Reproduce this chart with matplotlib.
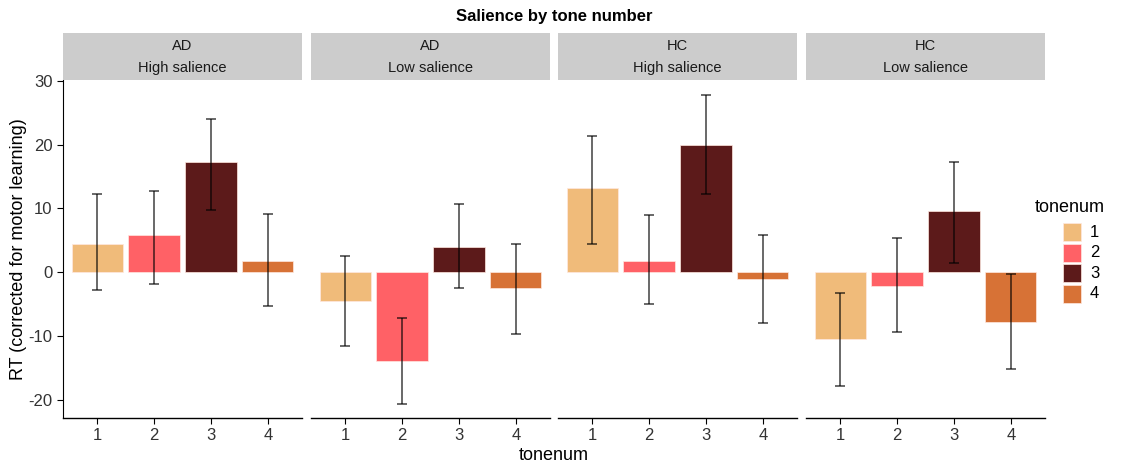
import matplotlib.pyplot as plt
import numpy as np

plt.rcParams['font.family'] = ['Liberation Sans', 'DejaVu Sans']

# --- DATA ---
tones = [1, 2, 3, 4]
groups = ['AD', 'AD', 'HC', 'HC']
salience = ['High salience', 'Low salience', 'High salience', 'Low salience']
means = [
    [4.5, 5.8, 17.2, 1.7],
    [-4.5, -13.9, 3.9, -2.4],
    [13.2, 1.8, 20.0, -1.0],
    [-10.4, -2.1, 9.6, -7.8],
]
upper = [
    [12.2, 12.8, 24.0, 9.2],
    [2.6, -7.1, 10.7, 4.5],
    [21.3, 9.0, 27.8, 5.9],
    [-3.2, 5.3, 17.2, -0.3],
]
lower = [
    [-2.8, -1.8, 9.8, -5.2],
    [-11.6, -20.6, -2.4, -9.7],
    [4.5, -5.0, 12.2, -8.0],
    [-17.8, -9.4, 1.4, -15.1],
]
colors = ['#F0BB7A', '#FF6166', '#5C1A1A', '#D77236']

W, H = 1134, 466
fig = plt.figure(figsize=(W / 100, H / 100), dpi=100)

panel_left = [63, 311, 558, 806]
panel_w = 239
top, bottom = 80, 418
strip_top = 33

for i in range(4):
    ax = fig.add_axes([panel_left[i] / W, (H - bottom) / H, panel_w / W, (bottom - top) / H])
    m = np.array(means[i])
    lo = np.array(lower[i])
    hi = np.array(upper[i])
    ax.bar(tones, m, width=0.9, color=colors, edgecolor='#FFE8E0', linewidth=0.5)
    ax.errorbar(tones, m, yerr=[m - lo, hi - m], fmt='none', ecolor='black',
                elinewidth=1.1, capsize=3.3, capthick=1.1, alpha=0.75)
    ax.set_xlim(0.4, 4.6)
    ax.set_ylim(-22.8, 30.1)
    ax.set_xticks(tones)
    ax.set_xticklabels([str(t) for t in tones], fontsize=12, color='#333333')
    ax.set_yticks([-20, -10, 0, 10, 20, 30])
    for s in ['top', 'right']:
        ax.spines[s].set_visible(False)
    ax.spines['bottom'].set_linewidth(1.0)
    ax.tick_params(axis='x', length=4, width=0.8)
    if i == 0:
        ax.set_yticklabels(['-20', '-10', '0', '10', '20', '30'], fontsize=12, color='#333333')
        ax.tick_params(axis='y', length=4, width=0.8)
        ax.set_ylabel('RT (corrected for motor learning)', fontsize=13, labelpad=1)
    else:
        ax.spines['left'].set_visible(False)
        ax.tick_params(axis='y', left=False, labelleft=False)

    # facet strip
    sax = fig.add_axes([panel_left[i] / W, (H - top) / H, panel_w / W, (top - strip_top) / H])
    sax.set_facecolor('#CCCCCC')
    sax.set_xticks([])
    sax.set_yticks([])
    for s in sax.spines.values():
        s.set_visible(False)
    sax.text(0.5, 0.72, groups[i], ha='center', va='center', fontsize=10.5, color='#1A1A1A', transform=sax.transAxes)
    sax.text(0.5, 0.25, salience[i], ha='center', va='center', fontsize=10.5, color='#1A1A1A', transform=sax.transAxes)

fig.text((63 + 1045) / 2 / W, 1 - 16 / H, 'Salience by tone number', ha='center', va='center',
         fontsize=12, fontweight='bold')
fig.text((63 + 1045) / 2 / W, 1 - 455 / H, 'tonenum', ha='center', va='center', fontsize=13)

# legend
fig.text(1035 / W, 1 - 207 / H, 'tonenum', ha='left', va='center', fontsize=13)
for k, t in enumerate(tones):
    yc = 232 + k * 20.5
    fig.patches.append(plt.Rectangle((1063 / W, 1 - (yc + 9) / H), 18 / W, 18 / H,
                                     transform=fig.transFigure, facecolor=colors[k],
                                     edgecolor='#FFE8E0', linewidth=0.5))
    fig.text(1090 / W, 1 - yc / H, str(t), ha='left', va='center', fontsize=12)

fig.savefig('out.png', dpi=100)
